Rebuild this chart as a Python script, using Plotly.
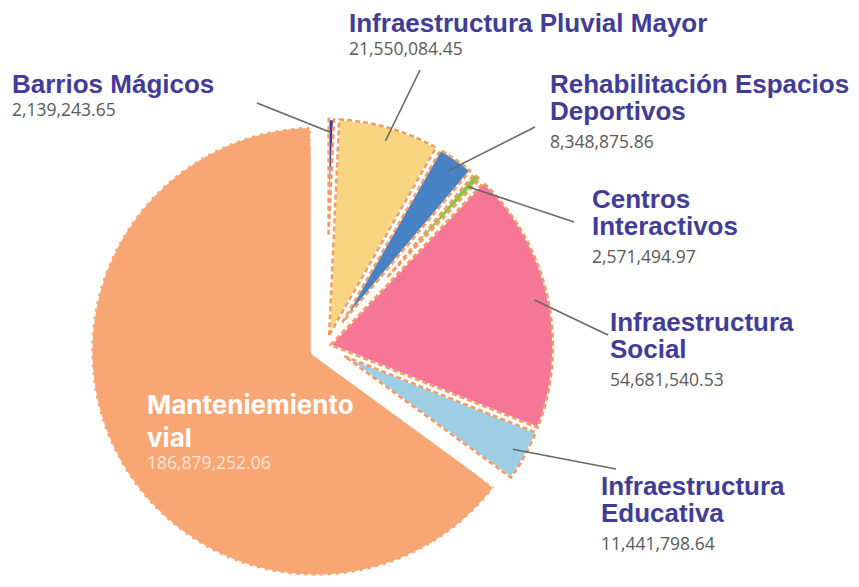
import math
import plotly.graph_objects as go

# ---------------- data ----------------
categories = [
    "Barrios Mágicos",
    "Infraestructura Pluvial Mayor",
    "Rehabilitación Espacios<br>Deportivos",
    "Centros<br>Interactivos",
    "Infraestructura<br>Social",
    "Infraestructura<br>Educativa",
    "Manteniemiento<br>vial",
]
values = [
    2139243.65,
    21550084.45,
    8348875.86,
    2571494.97,
    54681540.53,
    11441798.64,
    186879252.06,
]
colors = ["#3D3A9B", "#F8D580", "#4682C4", "#8CC544", "#F57696", "#9DCEE4", "#F8A674"]

# ---------------- layout constants ----------------
W, H = 859, 587
CX, CY = 326.0, 346.0          # pie centre in pixels (from top-left)
RB = 241.0                      # half of domain size in pixels
pulls = [0, 0, 0, 0, 0, 0, 0.05]
line_w = [7, 7, 7, 7, 7, 7, 10]
R = RB / (1 + max(pulls))

dom_x = [(CX - RB) / W, (CX + RB) / W]
dom_y = [(H - CY - RB) / H, (H - CY + RB) / H]

fig = go.Figure(go.Pie(
    labels=[c.replace("<br>", " ") for c in categories],
    values=values,
    sort=False,
    direction="clockwise",
    rotation=0,
    pull=pulls,
    textinfo="none",
    marker=dict(colors=colors, line=dict(color="white", width=line_w)),
    domain=dict(x=dom_x, y=dom_y),
    showlegend=False,
))

def px2paper(x, y):
    return x / W, 1 - y / H

total = sum(values)
starts, ends = [], []
acc = 0.0
for v in values:
    starts.append(acc / total * 2 * math.pi)
    acc += v
    ends.append(acc / total * 2 * math.pi)

shapes = []
# dashed slice outlines (computed from the slice angles)
for i in range(len(values)):
    a0, a1 = starts[i], ends[i]
    m = (a0 + a1) / 2
    ox = CX + pulls[i] * R * math.sin(m)
    oy = CY - pulls[i] * R * math.cos(m)
    last = i == len(values) - 1
    d = 5.0 if last else 2.6
    h = (a1 - a0) / 2
    rr = R - d
    delta = math.asin(d / rr)
    if a1 - delta <= a0 + delta:
        continue
    pts = []
    if h < math.pi / 2:
        apex_d = d / math.sin(h)
        pts.append((ox + apex_d * math.sin(m), oy - apex_d * math.cos(m)))
    else:
        apex_d = d / math.sin(math.pi - h)
        pts.append((ox - apex_d * math.sin(m), oy + apex_d * math.cos(m)))
    n = max(2, int((a1 - a0) / 0.01))
    for k in range(n + 1):
        a = a0 + delta + (a1 - a0 - 2 * delta) * k / n
        pts.append((ox + rr * math.sin(a), oy - rr * math.cos(a)))
    path = "M " + " L ".join("%.5f,%.5f" % px2paper(x, y) for x, y in pts) + " Z"
    col = "white" if last else "#F69A62"
    shapes.append(dict(type="path", xref="paper", yref="paper", path=path,
                       line=dict(color=col, width=2.5, dash="5px,3px"),
                       fillcolor="rgba(0,0,0,0)", layer="above"))

# ---------------- labels ----------------
TITLE_COLOR = "#413C98"
VALUE_COLOR = "#595959"
INSIDE_VALUE_COLOR = "#FDE3D3"
TITLE_SIZE = 26
VALUE_SIZE = 17.5
# (left x, first title baseline, base font size that sets line spacing) in pixels
label_pos = [
    (10, 92, 17.5),
    (347, 31, 18),
    (548, 92, 21),
    (590, 207, 21),
    (608, 330, 21),
    (599, 494, 21),
    (145, 413, 17),
]
# leader-line end near the label, in pixels (None = no leader line)
leader_ends = [(257, 103), (420, 70), (535, 127), (574, 222), (608, 335), (616, 469), None]

annotations = []

def add_block(x, baseline, lines, base_size, family, color, ascent):
    xp, _ = px2paper(x, 0)
    _, yp = px2paper(0, baseline - ascent - 1)
    annotations.append(dict(x=xp, y=yp, xref="paper", yref="paper", xanchor="left",
                            yanchor="top", align="left", showarrow=False,
                            text="<br>".join(lines),
                            font=dict(family=family, size=base_size, color=color)))

def value_span(v, color):
    return ('<span style="font-family:\'Open Sans\';font-size:%spx;font-weight:normal;color:%s">%s</span>'
            % (VALUE_SIZE, color, f"{v:,.2f}"))

for i, cat in enumerate(categories):
    x, b1, base = label_pos[i]
    lines = cat.split("<br>")
    inside = i == len(categories) - 1
    if inside:
        # first line on its own, then second line + value
        t0 = '<span style="font-size:%dpx"><b>%s</b></span>' % (TITLE_SIZE, lines[0])
        add_block(x, b1, [t0], TITLE_SIZE, "Inter", "white", 0.969 * TITLE_SIZE)
        t1 = '<span style="font-size:%dpx"><b>%s</b></span>' % (TITLE_SIZE, lines[1])
        add_block(x, b1 + 33, [t1, value_span(values[i], INSIDE_VALUE_COLOR)], base,
                  "Inter", "white", 0.969 * TITLE_SIZE)
    else:
        tl = ['<span style="font-size:%dpx"><b>%s</b></span>' % (TITLE_SIZE, ln) for ln in lines]
        tl.append(value_span(values[i], VALUE_COLOR))
        add_block(x, b1, tl, base, "Liberation Sans", TITLE_COLOR, 0.905 * TITLE_SIZE)

    if leader_ends[i] is not None:
        m = (starts[i] + ends[i]) / 2
        ox = CX + pulls[i] * R * math.sin(m)
        oy = CY - pulls[i] * R * math.cos(m)
        sx = ox + 0.93 * R * math.sin(m)
        sy = oy - 0.93 * R * math.cos(m)
        x0, y0 = px2paper(*leader_ends[i])
        x1, y1 = px2paper(sx, sy)
        shapes.append(dict(type="line", xref="paper", yref="paper", x0=x0, y0=y0, x1=x1, y1=y1,
                           line=dict(color="#666666", width=1.6), layer="above"))

fig.update_layout(
    width=W, height=H,
    margin=dict(l=0, r=0, t=0, b=0),
    paper_bgcolor="white",
    plot_bgcolor="white",
    shapes=shapes,
    annotations=annotations,
)

fig.write_html("out.html", config={"displayModeBar": False},
               post_script="document.body.style.margin='0';")
